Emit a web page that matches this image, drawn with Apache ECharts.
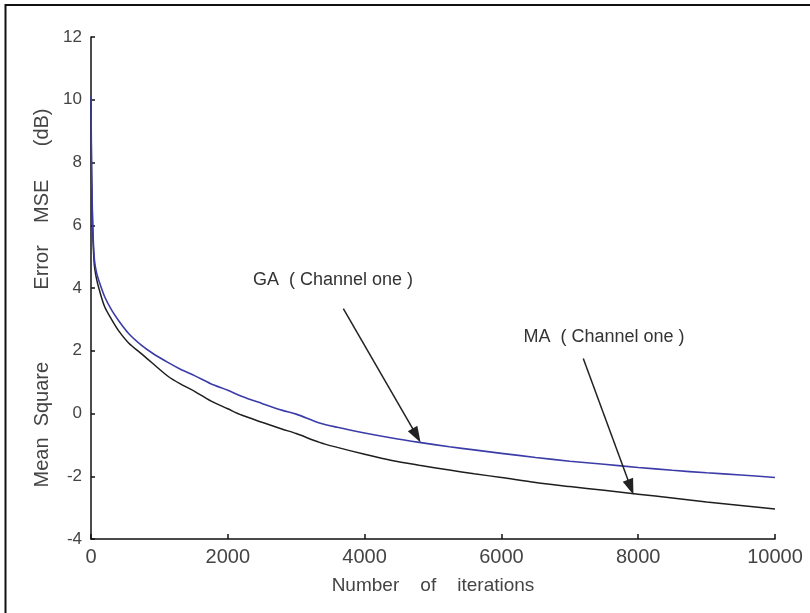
<!DOCTYPE html>
<html>
<head>
<meta charset="utf-8">
<script src="https://cdn.jsdelivr.net/npm/echarts@6/dist/echarts.min.js"></script>
<style>html,body{margin:0;padding:0;background:#fff}#c{width:810px;height:613px}</style>
</head>
<body>
<div id="c"></div>
<script>
// Iteration counts (x values)
const iterations = [0, 5, 10, 20, 30, 50, 80, 120, 200, 300, 400, 550, 740, 900, 1130, 1300, 1520, 1750, 2000, 2200, 2500, 2800, 3000, 3340, 3600, 4000, 4400, 4800, 5240, 5600, 6000, 6500, 7000, 7500, 8000, 8500, 9000, 9500, 10000];
// GA (Channel one) MSE in dB
const gaMSE = [10.1, 8.6, 7.6, 6.5, 5.7, 4.9, 4.5, 4.2, 3.72, 3.3, 2.97, 2.55, 2.17, 1.92, 1.62, 1.42, 1.2, 0.95, 0.74, 0.55, 0.32, 0.1, -0.02, -0.3, -0.44, -0.62, -0.78, -0.92, -1.06, -1.16, -1.27, -1.4, -1.52, -1.62, -1.72, -1.81, -1.89, -1.96, -2.04];
// MA (Channel one) MSE in dB
const maMSE = [10.0, 8.4, 7.4, 6.3, 5.5, 4.7, 4.3, 3.95, 3.4, 3.0, 2.65, 2.25, 1.9, 1.6, 1.18, 0.95, 0.7, 0.4, 0.15, -0.05, -0.28, -0.5, -0.64, -0.92, -1.08, -1.3, -1.5, -1.65, -1.8, -1.92, -2.04, -2.2, -2.33, -2.45, -2.57, -2.69, -2.82, -2.93, -3.04];
// Axis settings
const xTicks = [0, 2000, 4000, 6000, 8000, 10000];
const yTicks = [-4, -2, 0, 2, 4, 6, 8, 10, 12];
// Annotation arrows: [start, end] in data coordinates
const gaArrow = [[3689, 3.34], [4760, -0.7]];
const maArrow = [[7197, 1.75], [7890, -2.35]];

const chart = echarts.init(document.getElementById('c'), null, {renderer: 'canvas'});
const FONT = 'Liberation Sans, Arial, sans-serif';
const pair = (xs, ys) => xs.map((x, i) => [x, ys[i]]);

chart.setOption({
  animation: false,
  backgroundColor: '#fff',
  grid: {left: 91, right: 35, top: 37, bottom: 74},
  xAxis: {
    type: 'value', min: xTicks[0], max: xTicks[xTicks.length - 1], interval: 2000,
    axisLine: {show: true, onZero: false, lineStyle: {color: '#111', width: 1.5}},
    axisTick: {show: true, inside: true, length: 5, lineStyle: {color: '#111', width: 1.5}},
    axisLabel: {color: '#444', fontSize: 20, fontFamily: FONT, margin: 8, formatter: v => String(v)},
    splitLine: {show: false}
  },
  yAxis: {
    type: 'value', min: yTicks[0], max: yTicks[yTicks.length - 1], interval: 2,
    axisLine: {show: true, onZero: false, lineStyle: {color: '#111', width: 1.5}},
    axisTick: {show: true, inside: true, length: 4, lineStyle: {color: '#111', width: 1.5}},
    axisLabel: {color: '#444', fontSize: 17, fontFamily: FONT, margin: 9, formatter: v => String(v)},
    splitLine: {show: false}
  },
  series: [
    {
      name: 'GA (Channel one)', type: 'line', showSymbol: false, smooth: 0.3,
      data: pair(iterations, gaMSE),
      lineStyle: {color: '#3c3ca8', width: 1.6},
      itemStyle: {color: '#3c3ca8'},
      z: 3
    },
    {
      name: 'MA (Channel one)', type: 'line', showSymbol: false, smooth: 0.3,
      data: pair(iterations, maMSE),
      lineStyle: {color: '#1e1e1e', width: 1.5},
      itemStyle: {color: '#1e1e1e'},
      z: 2,
      markLine: {
        silent: true, animation: false,
        symbol: ['none', 'path://M5,0 L10,16 L0,16 Z'], symbolSize: [11, 16],
        label: {show: false},
        lineStyle: {color: '#222', width: 1.5, type: 'solid'},
        data: [
          [{coord: gaArrow[0]}, {coord: gaArrow[1]}],
          [{coord: maArrow[0]}, {coord: maArrow[1]}]
        ]
      }
    }
  ],
  graphic: [
    {type: 'polyline', shape: {points: [[5.5, 613], [5.5, 5], [810, 5]]}, style: {fill: 'none', stroke: '#111', lineWidth: 2}, silent: true},
    {type: 'text', x: 42, y: 298, rotation: Math.PI / 2, style: {text: 'Mean  Square             Error    MSE      (dB)', font: '20px ' + FONT, fill: '#444', align: 'center', verticalAlign: 'middle'}, silent: true},
    {type: 'text', x: 433, y: 586, style: {text: 'Number    of    iterations', font: '19px ' + FONT, fill: '#444', align: 'center', verticalAlign: 'middle'}, silent: true},
    {type: 'text', x: 333, y: 280, style: {text: 'GA  ( Channel one )', font: '18px ' + FONT, fill: '#333', align: 'center', verticalAlign: 'middle'}, silent: true},
    {type: 'text', x: 604, y: 337, style: {text: 'MA  ( Channel one )', font: '18px ' + FONT, fill: '#333', align: 'center', verticalAlign: 'middle'}, silent: true}
  ]
});
</script>
</body>
</html>
